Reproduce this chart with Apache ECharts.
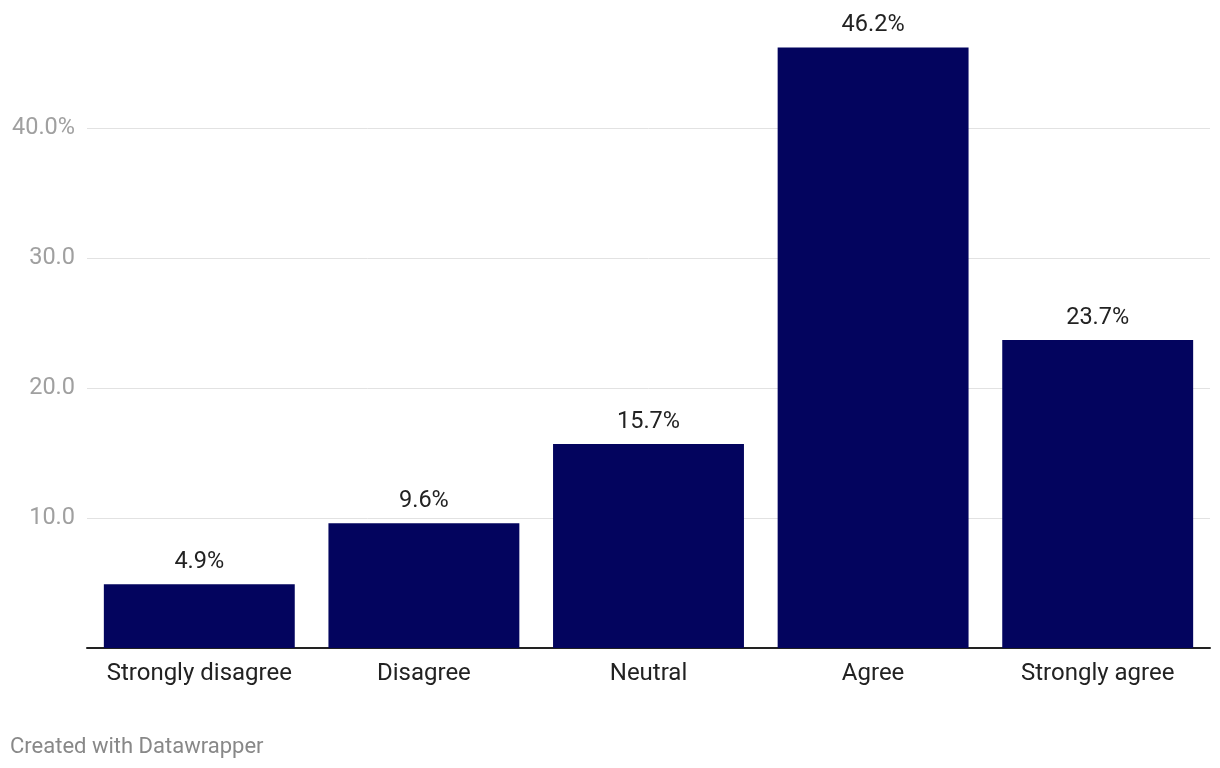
<!DOCTYPE html>
<html>
<head>
<meta charset="utf-8">
<script src="https://cdn.jsdelivr.net/npm/echarts@6/dist/echarts.min.js"></script>
<style>
html,body{margin:0;padding:0;background:#fff;}
#chart{width:1220px;height:768px;}
</style>
</head>
<body>
<div id="chart"></div>
<script>
const categories = ['Strongly disagree', 'Disagree', 'Neutral', 'Agree', 'Strongly agree'];
const values = [4.9, 9.6, 15.7, 46.2, 23.7];
const yTicks = [10, 20, 30, 40];
const yTickLabels = { 10: '10.0', 20: '20.0', 30: '30.0', 40: '40.0%' };
const footerText = 'Created with Datawrapper';

const chart = echarts.init(document.getElementById('chart'), null, { renderer: 'canvas' });
chart.setOption({
  animation: false,
  textStyle: { fontFamily: 'Roboto' },
  grid: { left: 87, right: 10, top: 0, bottom: 120, containLabel: false },
  xAxis: {
    type: 'category',
    data: categories,
    axisLine: { show: true, lineStyle: { color: '#222', width: 2 } },
    axisTick: { show: false },
    axisLabel: { interval: 0, color: '#222', fontSize: 24, margin: 14, fontFamily: 'Roboto' }
  },
  yAxis: {
    type: 'value',
    min: 0,
    max: 49.85,
    interval: 10,
    axisLine: { show: false },
    axisTick: { show: false },
    splitLine: { showMaxLine: false, lineStyle: { color: '#e2e2e2', width: 1 } },
    axisLabel: {
      color: '#a0a0a0', fontSize: 23.5, margin: 12, fontFamily: 'Roboto',
      showMaxLabel: false,
      formatter: v => (yTicks.indexOf(v) >= 0 ? yTickLabels[v] : '')
    }
  },
  series: [{
    type: 'bar',
    data: values,
    barCategoryGap: '15%',
    itemStyle: { color: '#03045e' },
    label: {
      show: true, position: 'top', distance: 10,
      color: '#222', fontSize: 23.5, fontFamily: 'Roboto',
      formatter: p => p.value.toFixed(1) + '%'
    }
  }],
  graphic: [{
    type: 'text', left: 10, top: 736,
    style: { text: footerText, fill: '#888', fontSize: 22, fontFamily: 'Roboto' }
  }]
});
</script>
</body>
</html>
